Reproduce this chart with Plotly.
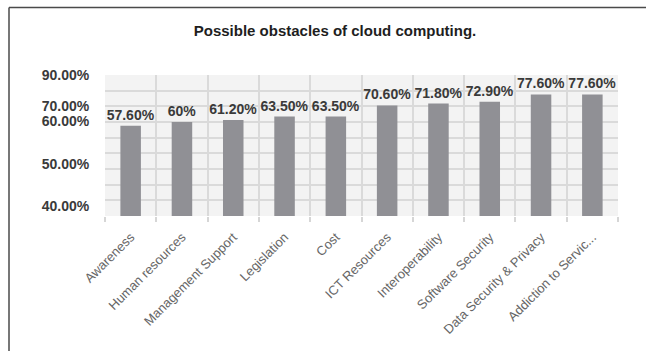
import plotly.graph_objects as go

# Survey results: share of respondents naming each obstacle
categories = [
    "Awareness", "Human resources", "Management Support", "Legislation", "Cost",
    "ICT Resources", "Interoperability", "Software Security",
    "Data Security & Privacy", "Addiction to Servic...",
]
values = [57.6, 60.0, 61.2, 63.5, 63.5, 70.6, 71.8, 72.9, 77.6, 77.6]
value_labels = ["57.60%", "60%", "61.20%", "63.50%", "63.50%",
                "70.60%", "71.80%", "72.90%", "77.60%", "77.60%"]

# y-axis tick labels as printed on the chart
y_tick_values = [6.4, 33.2, 60.4, 70.3, 90.0]
y_tick_text = ["40.00%", "50.00%", "60.00%", "70.00%", "90.00%"]

TXT = "#3a3a3a"
FONT = "Liberation Sans, Arial, sans-serif"

fig = go.Figure(
    go.Bar(
        x=categories,
        y=values,
        text=value_labels,
        textposition="outside",
        constraintext="none",
        cliponaxis=False,
        textfont=dict(family=FONT, size=14, color=TXT, weight="bold"),
        marker=dict(color="#909095", line=dict(width=0)),
        hoverinfo="skip",
    )
)

fig.update_layout(
    width=646,
    height=351,
    margin=dict(l=105, r=28, t=75, b=135),
    paper_bgcolor="white",
    plot_bgcolor="#f3f3f3",
    bargap=0.6,
    showlegend=False,
    title=dict(
        text="Possible obstacles of cloud computing.",
        x=335 / 646, xanchor="center", xref="container",
        y=0.912, yanchor="middle", yref="container",
        font=dict(family=FONT, size=15, color="#1e1e1e", weight="bold"),
    ),
    xaxis=dict(
        type="category",
        tickson="boundaries",
        showgrid=True,
        gridcolor="#dadada",
        gridwidth=2,
        ticks="outside",
        ticklen=5,
        tickwidth=1.5,
        tickcolor="#d6d6d6",
        tickangle=-45,
        ticklabelstandoff=10,
        tickfont=dict(family=FONT, size=13, color="#666666"),
        showline=False,
        zeroline=False,
        automargin=False,
    ),
    yaxis=dict(
        range=[0, 90],
        tickmode="array",
        tickvals=y_tick_values,
        ticktext=y_tick_text,
        showgrid=False,
        ticks="outside",
        ticklen=12,
        tickcolor="rgba(0,0,0,0)",
        tickfont=dict(family=FONT, size=14, color=TXT, weight="bold"),
        zeroline=False,
        showline=False,
        automargin=False,
        minor=dict(
            tickmode="linear", tick0=0, dtick=10,
            showgrid=True, gridcolor="#dadada", gridwidth=2, ticks="",
        ),
    ),
)

# Frame lines along the top and left of the figure
fig.add_shape(type="line", xref="paper", yref="paper",
              x0=(9 - 105) / 513, x1=(646 - 105) / 513,
              y0=(216 - 7.5) / 141, y1=(216 - 7.5) / 141,
              line=dict(color="#4a4a4a", width=1.5))
fig.add_shape(type="line", xref="paper", yref="paper",
              x0=(9 - 105) / 513, x1=(9 - 105) / 513,
              y0=(216 - 7.5) / 141, y1=(216 - 351) / 141,
              line=dict(color="#4a4a4a", width=1.5))

fig.write_html("out.html")
